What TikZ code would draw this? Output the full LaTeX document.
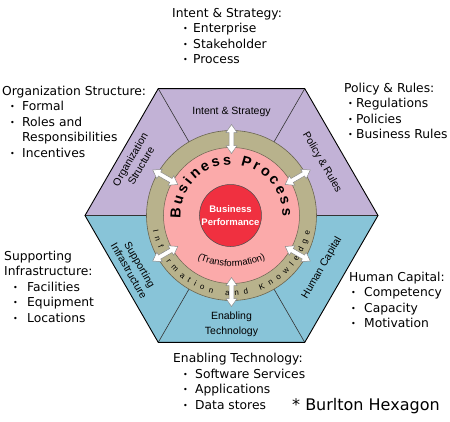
\documentclass[tikz,border=0pt]{standalone}
\usepackage{fontspec}
\setmainfont{DejaVu Sans}
\newfontfamily\arialf{Liberation Sans}
\usetikzlibrary{decorations.text}
\definecolor{hexpurple}{RGB}{194,178,214}
\definecolor{hexblue}{RGB}{136,196,216}
\definecolor{ringolive}{RGB}{184,178,140}
\definecolor{ringedge}{RGB}{105,100,80}
\definecolor{bppink}{RGB}{251,170,170}
\definecolor{perfred}{RGB}{240,48,64}
\newcommand\bul{{\fontsize{8}{8}\selectfont\raisebox{1pt}{•}}}
\newcommand\bitem[3]{\makebox[#2][l]{\hspace*{#1}\bul}#3}
\tikzset{
  divline/.style={draw=black!80, line width=0.6pt},
  hexedge/.style={draw=black, line width=0.9pt, line join=miter},
  seglabel/.style={font=\arialf\fontsize{10.5}{12.5}\selectfont, align=center, inner sep=0pt},
  outer/.style={font=\fontsize{12.3}{15.5}\selectfont, align=left, anchor=base west, inner sep=0pt},
  arrowbox/.style={fill=white, draw=black!45, line width=0.5pt, line join=miter},
}
\begin{document}
\begin{tikzpicture}[x=1pt,y=1pt]
\useasboundingbox (-231.5,-205.5) rectangle (218.5,215.5);
\coordinate (O) at (0,0);
\foreach \i in {0,...,5} \coordinate (V\i) at (\i*60:146.5);
\fill[hexpurple] (V0)--(V1)--(V2)--(V3)--cycle;
\fill[hexblue] (V3)--(V4)--(V5)--(V0)--cycle;
\foreach \i in {0,...,5} \draw[divline] (V\i) -- (O);
\draw[hexedge] (V0)--(V1)--(V2)--(V3)--(V4)--(V5)--cycle;
% circles
\node[circle, minimum size=170pt, inner sep=0pt, fill=ringolive, draw=ringedge, line width=0.6pt] (ring) at (O) {};
\node[circle, minimum size=136pt, inner sep=0pt, fill=bppink, draw=ringedge, line width=0.5pt] (bp) at (O) {};
\node[circle, minimum size=62pt, inner sep=0pt, fill=perfred, draw=black!70, line width=0.5pt,
      text=white, align=center, font=\arialf\bfseries\fontsize{9.5}{12.5}\selectfont] (perf) at (-1,0) {Business\\Performance};
% texts on arcs
\path[decorate, decoration={text along path, text align={fit to path},
   text={|\arialf\bfseries\fontsize{14.5}{14.5}\selectfont|Business Process}}]
   (183:51) arc[start angle=183, end angle=-1, radius=51];
\path[decorate, decoration={text along path, text align={fit to path},
   text={|\arialf\fontsize{8}{8}\selectfont|Information and Knowledge}}]
   (191:80) arc[start angle=191, end angle=349, radius=80];
\path[decorate, decoration={text along path, text align=center,
   text={|\arialf\fontsize{9.5}{9.5}\selectfont|(Transformation)}}]
   ([shift={(0,36)}]242:87) arc[start angle=242, end angle=298, radius=87];
% arrows
\foreach \a in {90,30,150,210,270,330}{
  \begin{scope}[rotate=\a]
    \path[arrowbox] (62,0) -- (70,5.5) -- (70,2.3) -- (83,2.3) -- (83,5.5) -- (91,0)
       -- (83,-5.5) -- (83,-2.3) -- (70,-2.3) -- (70,-5.5) -- cycle;
  \end{scope}
}
% segment labels
\node[seglabel] (lint) at (0,104) {Intent \& Strategy};
\node[seglabel, rotate=-60] (lpol) at (90.5,53) {Policy \& Rules};
\node[seglabel, rotate=60] (lorg) at (-96,53) {Organization\\Structure};
\node[seglabel, rotate=-60] (lsup) at (-97,-52) {Supporting\\Infrastructure};
\node[seglabel, rotate=60] (lhum) at (90.5,-52.5) {Human Capital};
\node[seglabel, font=\arialf\fontsize{10.5}{14.5}\selectfont] (lena) at (0,-109) {Enabling\\Technology};
% outer lists (anchored at the baseline of their last line)
\node[outer] (tint) at (-59.5,152) {Intent \& Strategy:\\
  \bitem{11pt}{21pt}{Enterprise}\\ \bitem{11pt}{21pt}{Stakeholder}\\ \bitem{11pt}{21pt}{Process}};
\node[outer] (torg) at (-229.5,58.5) {Organization Structure:\\
  \bitem{8pt}{20pt}{Formal}\\ \bitem{8pt}{20pt}{Roles and}\\ \hspace*{20pt}Responsibilities\\ \bitem{8pt}{20pt}{Incentives}};
\node[outer] (tpol) at (112.5,77) {Policy \& Rules:\\
  \bitem{4pt}{12pt}{Regulations}\\ \bitem{4pt}{12pt}{Policies}\\ \bitem{4pt}{12pt}{Business Rules}};
\node[outer] (tsup) at (-227.5,-106.5) {Supporting\\Infrastructure:\\
  \bitem{9pt}{23pt}{Facilities}\\ \bitem{9pt}{23pt}{Equipment}\\ \bitem{9pt}{23pt}{Locations}};
\node[outer] (thum) at (117.5,-112) {Human Capital:\\
  \bitem{2pt}{15pt}{Competency}\\ \bitem{2pt}{15pt}{Capacity}\\ \bitem{2pt}{15pt}{Motivation}};
\node[outer] (tena) at (-58.5,-193.5) {Enabling Technology:\\
  \bitem{10pt}{22pt}{Software Services}\\ \bitem{10pt}{22pt}{Applications}\\ \bitem{10pt}{22pt}{Data stores}};
\node[outer, font=\fontsize{16}{16}\selectfont] (burl) at (60.5,-194.5) {* Burlton Hexagon};
\end{tikzpicture}
\end{document}
